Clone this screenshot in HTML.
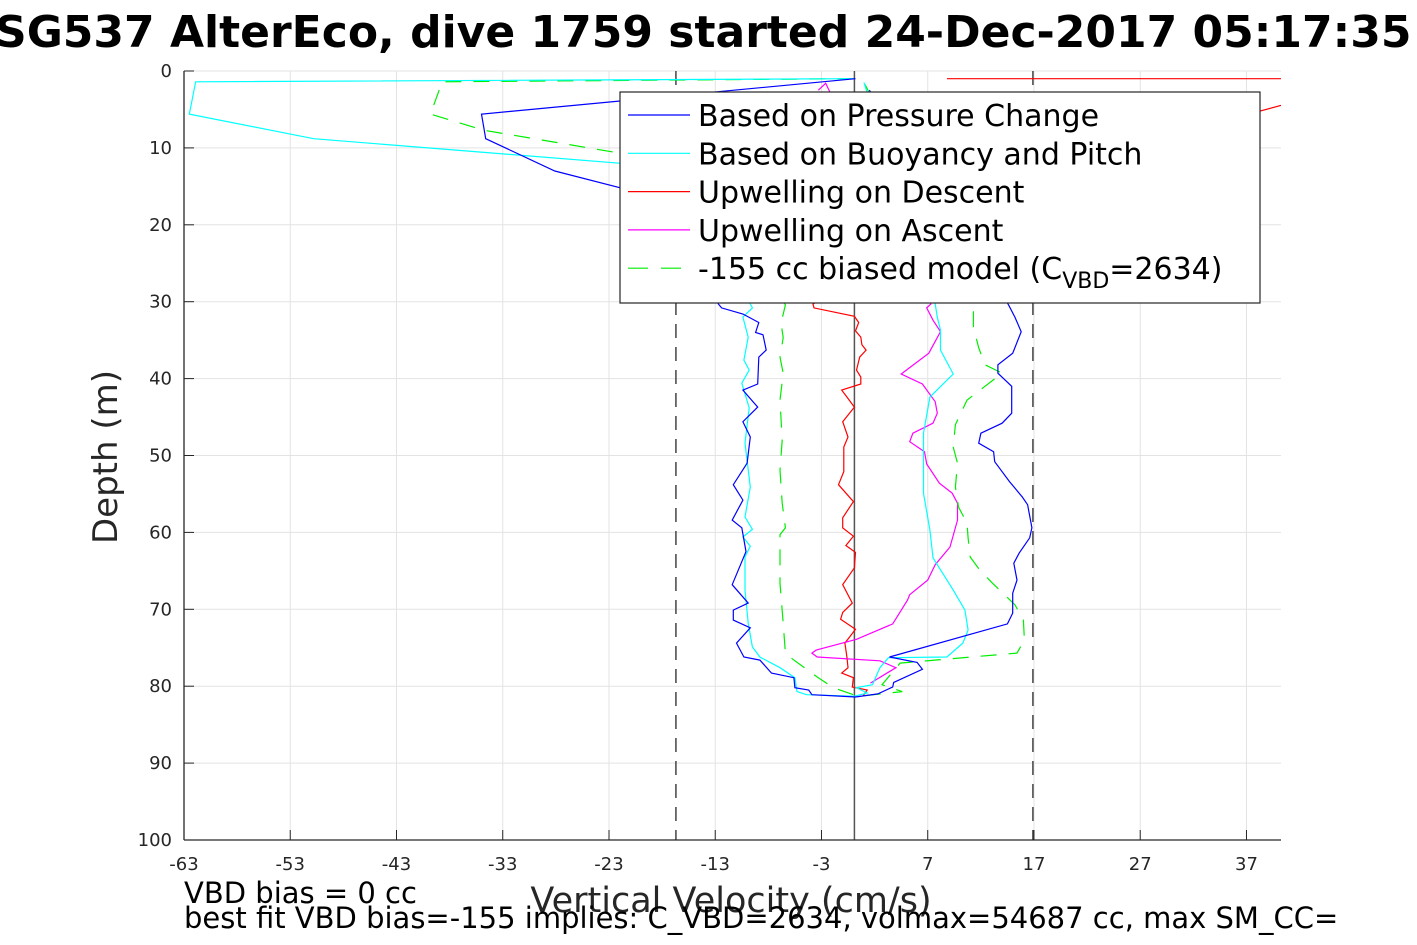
<!DOCTYPE html>
<html><head><meta charset="utf-8"><style>
html,body{margin:0;padding:0;background:#fff;}
svg{display:block;font-family:"DejaVu Sans","Liberation Sans",sans-serif;}
</style></head><body>
<svg id="chart" width="1417" height="945" viewBox="0 0 1417 945" xmlns="http://www.w3.org/2000/svg">
<defs><clipPath id="plotclip"><rect x="184" y="71" width="1097" height="769"/></clipPath></defs>
<rect width="1417" height="945" fill="#fff"/>
<text x="-5" y="47" font-size="44" font-weight="bold" fill="#000">SG537 AlterEco, dive 1759 started 24-Dec-2017 05:17:35</text>
<g id="grid"></g>
<g id="refs"></g>
<g id="series" clip-path="url(#plotclip)"></g>
<g id="axes"></g>
<text transform="translate(117,457) rotate(-90)" text-anchor="middle" font-size="34" fill="#262626">Depth (m)</text>
<text x="184" y="903" font-size="29" fill="#000">VBD bias = 0 cc</text>
<text x="731" y="912" text-anchor="middle" font-size="35" fill="#262626">Vertical Velocity (cm/s)</text>
<text x="184" y="928" font-size="29" fill="#000">best fit VBD bias=-155 implies: C_VBD=2634, volmax=54687 cc, max SM_CC=</text>
<g id="legend">
<rect x="620" y="92" width="640" height="211" fill="#fff" stroke="#262626" stroke-width="1.2"/>
</g>
</svg>
<script>
const xTicks = [-63,-53,-43,-33,-23,-13,-3,7,17,27,37];
const yTicks = [0,10,20,30,40,50,60,70,80,90,100];
const refLinesDashed = [-16.7, 16.9];
const refLineSolid = [0.1];
const legendLabels = ["Based on Pressure Change","Based on Buoyancy and Pitch","Upwelling on Descent","Upwelling on Ascent","-155 cc biased model (C_VBD=2634)"];
// series: [velocity, depth]
const pressureVel = [0.2,-35.0,-34.6,-28.1,-21.9,-16,-12.7,-12.4,-10.4,-8.9,-9.2,-8.5,-8.2,-8.9,-9.0,-10.4,-9.0,-10.4,-9.7,-10.0,-11.3,-10.4,-11.4,-10.5,-10.1,-11.4,-9.9,-11.3,-11.3,-9.7,-11.0,-10.3,-8.8,-7.7,-5.6,-5.5,-4.2,-3.9,0.2,2.3,3.7,3.8,6.5,6.0,3.4,14.5,15.0,15.0,15.4,15.1,15.6,16.6,16.8,16.4,15.9,14.7,13.3,13.2,11.8,12.0,14.0,14.9,14.9,13.6,13.6,15.0,15.8,15.2,14.6,8,1.5];
const pressureDep = [1.0,5.6,8.8,13,15.2,22,30.3,30.8,31.6,32.7,34,34.3,36.3,37.2,40.7,41.5,43.7,45.6,47.6,51,53.8,55.8,58.4,59.4,62.5,66.8,69.2,70.1,71.4,72.4,74.4,76.2,76.6,78.3,78.9,80.2,80.5,81.1,81.4,81,80.1,79.5,77.8,76.9,76.2,71.9,70.5,67.9,66.2,64,62.7,60.7,59.4,56.4,55.4,53.4,50.8,49.5,48.4,47.1,45.8,44.5,41,39.3,38.2,36.7,33.9,32,30.4,15,2.5];
const buoyVel = [0,-61.9,-62.5,-50.8,-21.9,-14,-9.7,-9.5,-10.4,-9.9,-10.3,-9.8,-10.5,-9.8,-10.2,-9.7,-10.2,-9.5,-10.4,-9.7,-10.2,-10.2,-9.9,-9.5,-8.8,-6.9,-5.5,-5.3,-4.4,0.1,1.3,0.3,1.8,2.5,3.3,8.8,10.3,10.8,10.5,9.4,7.5,7.2,6.6,6.6,6.6,7.2,9.4,8.2,8.2,7.9,7.7,4,1];
const buoyDep = [1.0,1.4,5.6,8.8,12,20,30.3,30.8,32,34.6,37.6,38.9,40.6,43.8,48.4,54.1,58,59.6,60.6,61.8,63.2,67.5,71.8,74.9,76.2,77.6,78.9,80.7,81.1,81.3,80.9,80.2,79.8,77.6,76.3,76.2,74.4,72.7,70.1,67.5,63.3,59.7,54.9,50.2,47.1,42.4,39.4,36.3,33.7,32,30.3,15,1.5];
const upDescVel = [8.8,45,45,20,-3.8,-3.7,0.1,0.5,0.2,0.7,0.8,1.2,0.6,0.3,0.7,0.7,-1.1,-0.6,0.1,-1.0,-0.5,-0.9,-0.9,-1.4,0,-1.0,-1.0,0,-0.7,0.2,0.1,-1.0,-0.1,-1.0,-1.2,0.2,-0.8,-0.6,-0.5,-1.1,0,-0.1,1.3,0.9];
const upDescDep = [1.0,1.0,2.7,12,30.3,30.8,31.9,32.7,33.8,34.6,35.6,36.3,37.2,38.9,39.8,40.7,41.5,42.4,43.7,45.6,47.6,48.9,52.1,53.8,56,58.1,59.4,60.5,61.7,62.6,64.6,66.8,69.2,70.4,71.3,72.6,74.4,76.3,77.6,78.3,78.9,80.1,80.5,81.3];
const upAscVel = [1.6,4.0,2.5,-3.4,-3.9,-3.5,0.3,3.7,5.1,5.3,7.0,7.7,9.1,9.8,9.8,9.3,8.1,6.9,6.7,5.3,5.6,7.5,7.9,7.7,6.5,4.5,7.1,8.2,7.5,6.9,7.3,2,-2.6,-3.3];
const upAscDep = [79.6,77.6,76.7,76.2,75.7,75.3,73.9,71.9,68.8,68.1,66.2,64.2,61.9,58.4,56.2,54.9,53.6,51.1,49.5,48.2,47.1,45.8,44.5,43,40.7,39.4,36.7,33.9,32.4,30.8,30.3,15,1.6,2.5];
const modelVel = [0,-38.7,-39.8,-34.8,-21.9,-12,-6.4,-6.8,-6.6,-6.9,-6.6,-6.9,-6.7,-6.9,-6.7,-6.4,-6.9,-6.9,-6.6,-6.4,-5.9,-3.4,-1.9,0.4,1.3,4.6,2.7,4.4,15.4,16.1,16.0,15.2,13.1,11.9,11.0,10.8,10.7,9.9,9.6,9.8,9.4,9.6,10.7,12.2,14.0,12.4,11.8,11.3,11.3,6,1];
const modelDep = [1.0,1.4,5.6,7.7,10.7,18,30.4,32.8,34.7,37.2,39.3,42.8,48,51.9,56.2,59.4,60.3,66.6,71.8,75.7,76.3,78.8,80.2,81.3,81.2,80.7,79.8,77,75.7,74,71.4,69.4,66.6,64.9,63.2,60.7,58.8,56.7,54.1,51,48.9,46,42.8,41.2,39.3,38.2,36,33.3,30.3,15,1.5];

const X0=184, X1=1281, Y0=71, Y1=840;
const xMin=-63, xMax=40.25, yMin=0, yMax=100;
const sx = v => X0 + (v-xMin)/(xMax-xMin)*(X1-X0);
const sy = d => Y0 + (d-yMin)/(yMax-yMin)*(Y1-Y0);
const NS="http://www.w3.org/2000/svg";
function mk(tag, attrs, parent){const e=document.createElementNS(NS,tag);for(const k in attrs)e.setAttribute(k,attrs[k]);parent.appendChild(e);return e;}

const grid=document.getElementById('grid'), axes=document.getElementById('axes');
xTicks.forEach(t=>{
  const gl=mk('line',{x1:sx(t),x2:sx(t),y1:Y0,y2:Y1,stroke:'#e3e3e3','stroke-width':1},grid);
  
  
  const tk=mk('line',{x1:sx(t),x2:sx(t),y1:Y1,y2:Y1-10,stroke:'#262626','stroke-width':1},axes);
  
  
  const lb=mk('text',{x:sx(t),y:Y1+30,'text-anchor':'middle','font-size':18,fill:'#262626'},axes);
  lb.textContent=t;
  
  
});
yTicks.forEach(t=>{
  const gl=mk('line',{x1:X0,x2:X1,y1:sy(t),y2:sy(t),stroke:'#e3e3e3','stroke-width':1},grid);
  
  
  const tk=mk('line',{x1:X0,x2:X0+10,y1:sy(t),y2:sy(t),stroke:'#262626','stroke-width':1},axes);
  
  
  const lb=mk('text',{x:X0-12,y:sy(t)+6,'text-anchor':'end','font-size':18,fill:'#262626'},axes);
  lb.textContent=t;
  
  
});
const xa=mk('line',{x1:X0,x2:X1,y1:Y1,y2:Y1,stroke:'#262626','stroke-width':1.3},axes);


const ya=mk('line',{x1:X0,x2:X0,y1:Y0,y2:Y1,stroke:'#262626','stroke-width':1.3},axes);



const refs=document.getElementById('refs');
refLinesDashed.forEach(v=>{
  const l=mk('line',{x1:sx(v),x2:sx(v),y1:Y0,y2:Y1,stroke:'#444','stroke-width':1.5,'stroke-dasharray':'14,9'},refs);
  
  
});
refLineSolid.forEach(v=>{
  const l=mk('line',{x1:sx(v),x2:sx(v),y1:Y0,y2:Y1,stroke:'#555','stroke-width':1.5},refs);
  
  
});

const series=document.getElementById('series');
function drawLine(vs, ds, color, dash, name){
  const pts=vs.map((v,i)=>sx(v).toFixed(1)+','+sy(ds[i]).toFixed(1)).join(' ');
  const p=mk('polyline',{points:pts,fill:'none',stroke:color,'stroke-width':1.2},series);
  if(dash)p.setAttribute('stroke-dasharray',dash);
  
  
}
drawLine(upDescVel,upDescDep,'#ff0000',null,'upwelling-descent-line');
drawLine(upAscVel,upAscDep,'#ff00ff',null,'upwelling-ascent-line');
drawLine(modelVel,modelDep,'#00ee00','16,12','biased-model-line');
drawLine(buoyVel,buoyDep,'#00ffff',null,'buoyancy-pitch-line');
drawLine(pressureVel,pressureDep,'#0000ff',null,'pressure-change-line');

const legend=document.getElementById('legend');
const legColors=['#0000ff','#00ffff','#ff0000','#ff00ff','#00ee00'];
legendLabels.forEach((lab,i)=>{
  const y=115+i*38.3;
  const ln=mk('line',{x1:628,x2:690,y1:y,y2:y,stroke:legColors[i],'stroke-width':1.2},legend);
  if(i===4)ln.setAttribute('stroke-dasharray','20,13');
  
  
  const t=mk('text',{x:698,y:y+11,'font-size':30,fill:'#000'},legend);
  if(i===4){
    t.textContent='-155 cc biased model (C';
    const s=mk('tspan',{'font-size':22,dy:9},t); s.textContent='VBD';
    const s2=mk('tspan',{dy:-9},t); s2.textContent='=2634)';
  } else t.textContent=lab;
  
  
});
</script>
</body></html>
